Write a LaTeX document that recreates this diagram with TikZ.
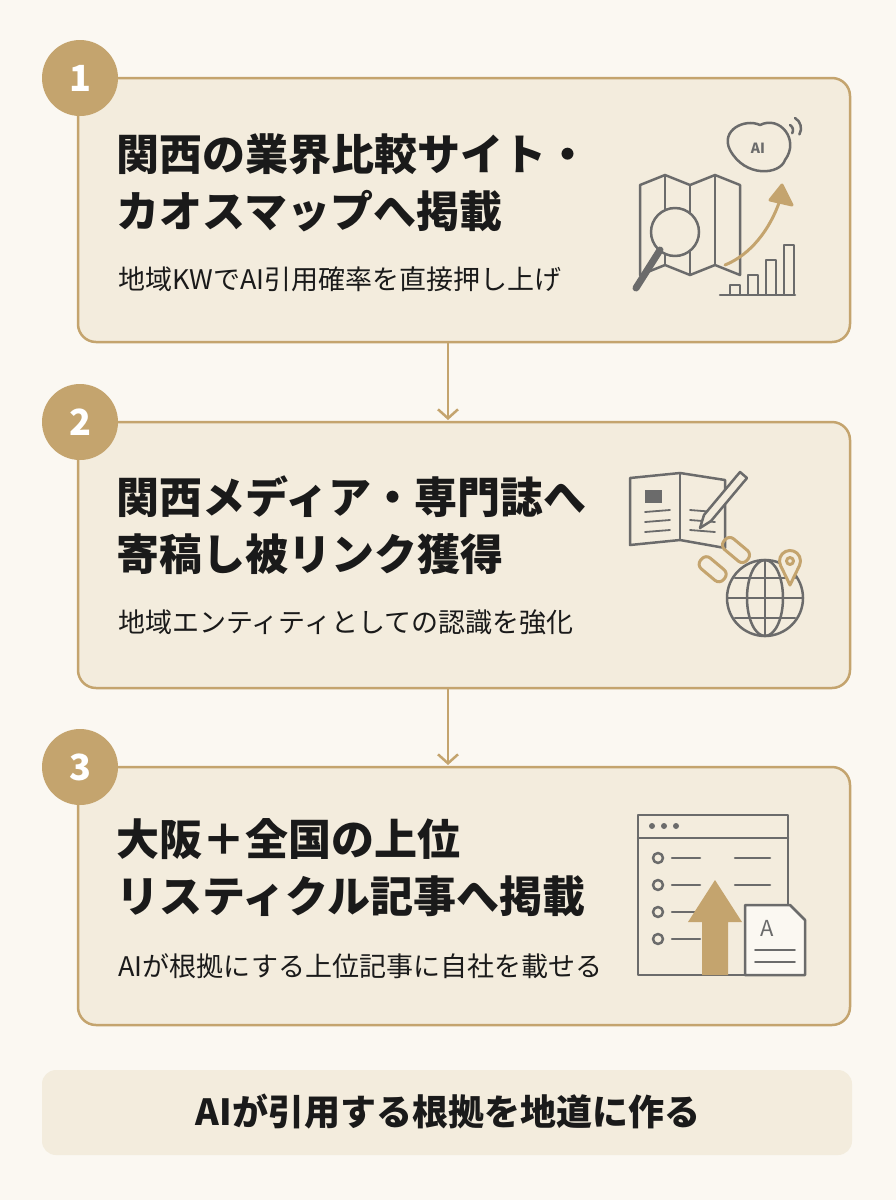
\documentclass[tikz,border=0pt]{standalone}
\usepackage{fontspec}
\setmainfont{Noto Sans CJK JP}
\usetikzlibrary{arrows.meta,positioning}
\definecolor{paper}{HTML}{FBF8F2}
\definecolor{card}{HTML}{F3ECDD}
\definecolor{gold}{HTML}{C4A46E}
\definecolor{ink}{HTML}{1A1A1A}
\definecolor{icon}{HTML}{6B6B6B}
\begin{document}
\begin{tikzpicture}[x=1pt,y=-1pt, >={Straight Barb[length=9pt,width=20pt]},
 stepcard/.style = {draw=gold, line width=2.5pt, fill=card, rounded corners=18pt},
 num/.style = {circle, fill=gold, minimum size=76pt, inner sep=0pt, text=white, font=\fontsize{36}{36}\bfseries},
 title/.style = {anchor=west, align=left, text=ink, font=\fontsize{43}{57}\bfseries},
 sub/.style = {anchor=west, text=ink, font=\fontsize{27}{30}\selectfont},
 ln/.style = {draw=icon, line width=2.5pt, line cap=round, line join=round},
 gl/.style = {draw=gold, line width=3pt, line cap=round, line join=round},
 ]
\useasboundingbox[fill=paper] (0,0) rectangle (896,1200);
% cards
\draw[stepcard] (78,78) rectangle (850,342);
\draw[stepcard] (78,422) rectangle (850,688);
\draw[stepcard] (78,767) rectangle (850,1025);
\node[num] (n1) at (80,78) {1};
\node[num] (n2) at (80,422) {2};
\node[num] (n3) at (80,767) {3};
% texts
\node[title] (t1) at (113,183) {関西の業界比較サイト・\\カオスマップへ掲載};
\node[sub]   (s1) at (115,279) {地域KWでAI引用確率を直接押し上げ};
\node[title] (t2) at (113,525) {関西メディア・専門誌へ\\寄稿し被リンク獲得};
\node[sub]   (s2) at (115,622) {地域エンティティとしての認識を強化};
\node[title] (t3) at (113,868) {大阪＋全国の上位\\リスティクル記事へ掲載};
\node[sub]   (s3) at (115,966) {AIが根拠にする上位記事に自社を載せる};
% connectors
\coordinate (a1) at (448,342); \coordinate (b1) at (448,420);
\coordinate (a2) at (448,688); \coordinate (b2) at (448,765);
\draw[gold, line width=2.5pt, ->] (a1) -- (b1);
\draw[gold, line width=2.5pt, ->] (a2) -- (b2);
% banner
\fill[card, rounded corners=14pt] (42,1070) rectangle (852,1155);
\node[font=\fontsize{36}{36}\bfseries, text=ink] (msg) at (448,1112) {AIが引用する根拠を地道に作る};
% icon 1: map, magnifier, brain, chart
\draw[ln] (640,185) -- (665,175) -- (690,185) -- (715,175) -- (740,185) -- (740,275) -- (715,265) -- (690,275) -- (665,265) -- (640,275) -- cycle;
\draw[ln] (665,175) -- (665,265) (690,185) -- (690,275) (715,175) -- (715,265);
\draw[ln, fill=card] (675,232) circle (24);
\draw[ln, line width=7pt] (660,250) -- (636,288);
\draw[ln] (730,150) .. controls (720,130) and (745,118) .. (760,125) .. controls (780,115) and (800,140) .. (785,160) .. controls (780,175) and (745,178) .. (730,150);
\node[text=icon, font=\fontsize{14}{14}\bfseries] (ai1) at (758,148) {AI};
\draw[ln] (790,125) arc (-60:30:6) (795,118) arc (-60:30:12);
\draw[gl] (725,265) .. controls (750,255) and (770,230) .. (780,200);
\draw[gl, fill=gold] (770,200) -- (782,185) -- (792,205) -- cycle;
\draw[ln] (720,295) -- (795,295);
\foreach \x/\h in {730/10,748/20,766/35,784/50} \draw[ln] (\x,295) rectangle ++(10,-\h);
% icon 2: book, chain, globe
\draw[ln] (630,478) -- (630,545) -- (680,540) -- (725,548) -- (725,480) -- (680,473) -- (630,478);
\draw[ln] (680,473) -- (680,540);
\fill[icon] (645,490) rectangle (662,503);
\foreach \y in {512,522,532} \draw[ln, line width=1.8pt] (645,\y) -- (670,\y-2) (690,\y-2) -- (715,\y);
\draw[ln, fill=card] (740,472) -- (704,515) -- (700,528) -- (711,521) -- (747,478) -- cycle;
\draw[gl, rounded corners=6pt, rotate around={-40:(712,570)}] (697,562) rectangle ++(30,14);
\draw[gl, rounded corners=6pt, rotate around={-40:(736,550)}] (721,543) rectangle ++(30,14);
\draw[ln] (765,598) circle (38);
\draw[ln] (765,560) -- (765,636) (727,598) -- (803,598) (735,578) -- (795,578) (735,618) -- (795,618);
\draw[ln] (765,598) ellipse (18 and 38);
\draw[gl, fill=card] (790,585) -- (780.5,565.4) arc (155:385:10.5) -- cycle;
\draw[gl] (790,561) circle (3.5);
% icon 3: window, list, arrow, document
\draw[ln] (638,815) rectangle (788,975);
\draw[ln] (638,838) -- (788,838);
\foreach \x in {652,664,676} \fill[icon] (\x,826) circle (3);
\foreach \y in {858,885,912,939} {\draw[ln] (658,\y) circle (5); \draw[ln] (672,\y) -- (700,\y);}
\foreach \y in {858,885} \draw[ln] (735,\y) -- (770,\y);
\fill[gold] (702,975) -- (702,922) -- (688,922) -- (715,880) -- (742,922) -- (728,922) -- (728,975) -- cycle;
\draw[ln, fill=paper] (745,905) -- (790,905) -- (805,920) -- (805,975) -- (745,975) -- cycle;
\node[text=icon, font=\fontsize{22}{22}\selectfont] (doc) at (767,928) {A};
\foreach \y in {950,962} \draw[ln, line width=1.8pt] (755,\y) -- (795,\y);
\end{tikzpicture}
\end{document}
